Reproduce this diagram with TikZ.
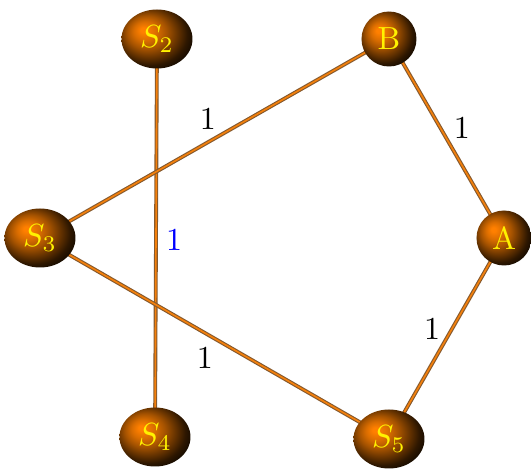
\documentclass[tikz,border=0pt]{standalone}
\usetikzlibrary{shapes.geometric}
\pgfdeclareradialshading{myball}{\pgfpoint{-10bp}{8bp}}{color(0bp)=(orange); color(2bp)=(orange); color(8bp)=(orange!85!black); color(14bp)=(orange!65!black); color(19bp)=(orange!45!black); color(26bp)=(orange!18!black); color(34bp)=(black); color(50bp)=(black)}
\begin{document}
\begin{tikzpicture}[x=0.3125pt,y=-0.3125pt,
  vball/.style={ellipse,shading=myball,text=yellow,inner sep=0pt,minimum width=71*0.3125pt,minimum height=59*0.3125pt},
  lball/.style={circle,shading=myball,text=yellow,inner sep=0pt,minimum size=55*0.3125pt},
  edge/.style={draw=brown!70!black,double=orange!85!brown,double distance=0.5pt,line width=0.35pt},
  lab/.style={inner sep=0pt}]
\useasboundingbox (0,0) rectangle (531,473);
\draw[edge] (157,39) coordinate (s2c) -- (155,437) coordinate (s4c);
\draw[edge] (40,238) coordinate (s3c) -- (389,39) coordinate (bc);
\draw[edge] (bc) -- (504,238) coordinate (ac);
\draw[edge] (ac) -- (389,439) coordinate (s5c);
\draw[edge] (s5c) -- (s3c);
\node[vball] (S2) at (s2c) {$S_2$};
\node[lball] (B) at (bc) {B};
\node[vball] (S3) at (s3c) {$S_3$};
\node[lball] (A) at (ac) {A};
\node[vball] (S4) at (s4c) {$S_4$};
\node[vball] (S5) at (s5c) {$S_5$};
\node[lab] (l1) at (208,119) {1};
\node[lab] (l2) at (462,128) {1};
\node[lab,text=blue] (l3) at (174,240) {1};
\node[lab] (l4) at (432,329) {1};
\node[lab] (l5) at (205,358) {1};
\end{tikzpicture}
\end{document}
